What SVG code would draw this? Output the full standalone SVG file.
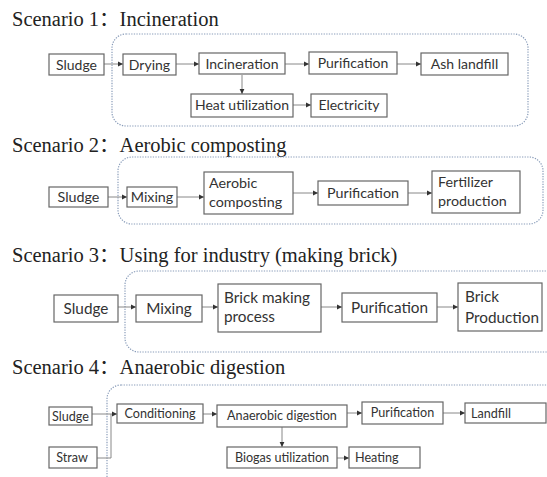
<svg xmlns="http://www.w3.org/2000/svg" width="547" height="477" viewBox="0 0 547 477">
  <defs>
    <marker id="arr" markerUnits="userSpaceOnUse" markerWidth="6" markerHeight="6" refX="5" refY="3" orient="auto">
      <path d="M0,0.6 L5,3 L0,5.4 Z" fill="#333"/>
    </marker>
    <style>
      .title { font-family: "Liberation Serif", "Noto Sans CJK SC", serif; font-size: 20.5px; fill: #222; }
      .box { fill: #fff; stroke: #666; stroke-width: 1.2; }
      .group { fill: none; stroke: #8a9dba; stroke-width: 1.2; stroke-dasharray: 1.3 1.3; }
      .lbl { font-family: Lato, "Liberation Sans", sans-serif; fill: #333; }
      .s1 { font-size: 14px; }
      .s2 { font-size: 14.3px; }
      .s3 { font-size: 15.3px; }
      .s4 { font-size: 12.6px; }
      .c { text-anchor: middle; }
      .edge { fill: none; stroke: #888; stroke-width: 1; marker-end: url(#arr); }
      .line { fill: none; stroke: #888; stroke-width: 1; }
    </style>
  </defs>

  <!-- Scenario titles -->
  <text class="title" x="12" y="26">Scenario 1：Incineration</text>
  <text class="title" x="12" y="152">Scenario 2：Aerobic composting</text>
  <text class="title" x="12" y="262">Scenario 3：Using for industry (making brick)</text>
  <text class="title" x="12" y="374">Scenario 4：Anaerobic digestion</text>

  <!-- Dotted process boundaries -->
  <rect class="group" x="112" y="34" width="416" height="92" rx="14"/>
  <rect class="group" x="118" y="157" width="425" height="67" rx="14"/>
  <rect class="group" x="125" y="271" width="450" height="81" rx="14"/>
  <rect class="group" x="107" y="385" width="470" height="120" rx="14"/>

  <!-- Connectors -->
  <g id="connectors">
    <!-- scenario 1 -->
    <path class="edge" d="M104,64 H123"/>
    <path class="edge" d="M176,64 H199"/>
    <path class="edge" d="M285,64 H309"/>
    <path class="edge" d="M397,64 H421"/>
    <path class="edge" d="M242,75 V94"/>
    <path class="edge" d="M293,105 H311"/>
    <!-- scenario 2 -->
    <path class="edge" d="M108,197 H127"/>
    <path class="edge" d="M177,197 H204"/>
    <path class="edge" d="M293,193 H318"/>
    <path class="edge" d="M408,193 H432"/>
    <!-- scenario 3 -->
    <path class="edge" d="M118,307 H136"/>
    <path class="edge" d="M202,307 H218"/>
    <path class="edge" d="M321,307 H342"/>
    <path class="edge" d="M437,307 H458"/>
    <!-- scenario 4 -->
    <path class="edge" d="M92,414 H117"/>
    <path class="line" d="M97,458 H111 V414"/>
    <path class="edge" d="M203,414 H217"/>
    <path class="edge" d="M347,413 H362"/>
    <path class="edge" d="M443,413 H465"/>
    <path class="edge" d="M282,427 V447"/>
    <path class="edge" d="M337,458 H349"/>
  </g>

  <!-- Scenario 1 nodes -->
  <g id="s1-sludge"><rect class="box" x="49" y="54" width="55" height="21"/><text class="lbl s1 c" x="76.5" y="69.5">Sludge</text></g>
  <g id="s1-drying"><rect class="box" x="123" y="54" width="53" height="21"/><text class="lbl s1 c" x="149.5" y="69.5">Drying</text></g>
  <g id="s1-incineration"><rect class="box" x="199" y="53" width="86" height="21"/><text class="lbl s1 c" x="242" y="68.5">Incineration</text></g>
  <g id="s1-purification"><rect class="box" x="309" y="52" width="88" height="22"/><text class="lbl s1 c" x="353" y="67.5">Purification</text></g>
  <g id="s1-ash"><rect class="box" x="421" y="53" width="87" height="22"/><text class="lbl s1 c" x="464.5" y="68.5">Ash landfill</text></g>
  <g id="s1-heat"><rect class="box" x="191" y="94" width="102" height="23"/><text class="lbl s1 c" x="242" y="110">Heat utilization</text></g>
  <g id="s1-electricity"><rect class="box" x="311" y="94" width="76" height="23"/><text class="lbl s1 c" x="349" y="110">Electricity</text></g>

  <!-- Scenario 2 nodes -->
  <g id="s2-sludge"><rect class="box" x="49" y="187" width="59" height="20"/><text class="lbl s2 c" x="78.5" y="202">Sludge</text></g>
  <g id="s2-mixing"><rect class="box" x="127" y="187" width="50" height="20"/><text class="lbl s2 c" x="152" y="202">Mixing</text></g>
  <g id="s2-aerobic"><rect class="box" x="204" y="172" width="89" height="42"/><text class="lbl s2" x="209" y="188">Aerobic</text><text class="lbl s2" x="209" y="207">composting</text></g>
  <g id="s2-purification"><rect class="box" x="318" y="181" width="90" height="24"/><text class="lbl s2 c" x="363" y="197.5">Purification</text></g>
  <g id="s2-fertilizer"><rect class="box" x="432" y="171" width="88" height="42"/><text class="lbl s2" x="438" y="187">Fertilizer</text><text class="lbl s2" x="438" y="206">production</text></g>

  <!-- Scenario 3 nodes -->
  <g id="s3-sludge"><rect class="box" x="54" y="295" width="64" height="27"/><text class="lbl s3 c" x="86" y="313.5">Sludge</text></g>
  <g id="s3-mixing"><rect class="box" x="136" y="295" width="66" height="27"/><text class="lbl s3 c" x="169" y="313.5">Mixing</text></g>
  <g id="s3-brickmaking"><rect class="box" x="218" y="284" width="103" height="48"/><text class="lbl s3" x="224" y="303">Brick making</text><text class="lbl s3" x="224" y="322">process</text></g>
  <g id="s3-purification"><rect class="box" x="342" y="293" width="95" height="29"/><text class="lbl s3 c" x="389.5" y="312.5">Purification</text></g>
  <g id="s3-brickproduction"><rect class="box" x="458" y="283" width="84" height="48"/><text class="lbl s3" x="465" y="302">Brick</text><text class="lbl s3" x="465" y="323">Production</text></g>

  <!-- Scenario 4 nodes -->
  <g id="s4-sludge"><rect class="box" x="49" y="407" width="43" height="18"/><text class="lbl s4 c" x="70.5" y="420.5">Sludge</text></g>
  <g id="s4-straw"><rect class="box" x="49" y="447" width="48" height="21"/><text class="lbl s4 c" x="72" y="462">Straw</text></g>
  <g id="s4-conditioning"><rect class="box" x="117" y="404" width="86" height="19"/><text class="lbl s4 c" x="160" y="418">Conditioning</text></g>
  <g id="s4-anaerobic"><rect class="box" x="217" y="405" width="130" height="22"/><text class="lbl s4 c" x="282" y="420">Anaerobic digestion</text></g>
  <g id="s4-purification"><rect class="box" x="362" y="402" width="81" height="22"/><text class="lbl s4 c" x="402.5" y="417">Purification</text></g>
  <g id="s4-landfill"><rect class="box" x="465" y="403" width="81" height="20"/><text class="lbl s4" x="471" y="417.5">Landfill</text></g>
  <g id="s4-biogas"><rect class="box" x="227" y="447" width="110" height="21"/><text class="lbl s4 c" x="282" y="462">Biogas utilization</text></g>
  <g id="s4-heating"><rect class="box" x="349" y="447" width="71" height="21"/><text class="lbl s4" x="355" y="462">Heating</text></g>
</svg>
